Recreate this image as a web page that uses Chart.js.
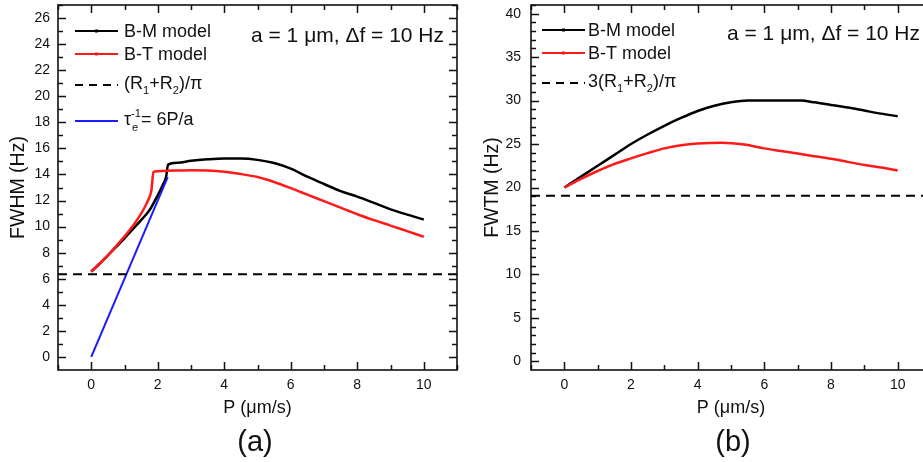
<!DOCTYPE html>
<html>
<head>
<meta charset="utf-8">
<script src="https://cdn.jsdelivr.net/npm/chart.js@4"></script>
<style>
  html, body { margin: 0; padding: 0; background: #fff; overflow: hidden; }
  #wrap { position: relative; width: 923px; height: 462px; overflow: hidden; background: #fff; }
  #fwhm-chart { position: absolute; left: 0; top: 0; }
  #fwtm-chart { position: absolute; left: 460px; top: 0; }
</style>
</head>
<body>
<div id="wrap">
  <canvas id="fwhm-chart" width="460" height="462"></canvas>
  <canvas id="fwtm-chart" width="474" height="462"></canvas>
</div>
<script>
const FONT = '"Liberation Sans", Arial, sans-serif';

// tick labels
const xTicks = [0, 2, 4, 6, 8, 10];
const fwhmTicks = [0, 2, 4, 6, 8, 10, 12, 14, 16, 18, 20, 22, 24, 26];
const fwtmTicks = [0, 5, 10, 15, 20, 25, 30, 35, 40];

// (a) FWHM, B-M model
const bmP = [0, 0.25, 0.5, 0.75, 1.0, 1.25, 1.5, 1.75, 2.0, 2.15, 2.25, 2.31, 2.6, 3.0, 3.5, 4.0, 4.5, 5.0, 5.5, 6.0, 6.5, 7.0, 7.5, 8.0, 8.5, 9.0, 9.5, 10];
const bmFwhm = [6.55, 7.15, 7.8, 8.45, 9.1, 9.8, 10.5, 11.25, 12.4, 13.2, 13.8, 14.75, 14.9, 15.05, 15.16, 15.22, 15.22, 15.12, 14.88, 14.45, 13.83, 13.27, 12.72, 12.3, 11.82, 11.32, 10.92, 10.55];

// (a) FWHM, B-T model
const btP = [0, 0.25, 0.5, 0.75, 1.0, 1.25, 1.5, 1.65, 1.75, 1.81, 1.87, 2.0, 2.5, 3.0, 3.5, 4.0, 4.5, 5.0, 5.5, 6.0, 6.5, 7.0, 7.5, 8.0, 8.5, 9.0, 9.5, 10];
const btFwhm = [6.55, 7.15, 7.8, 8.5, 9.25, 10.05, 11.0, 11.7, 12.25, 12.8, 14.2, 14.25, 14.3, 14.33, 14.3, 14.2, 14.03, 13.8, 13.42, 12.95, 12.45, 11.95, 11.45, 10.95, 10.5, 10.08, 9.65, 9.22];

// (a) 1/tau_e = 6P/a and (R1+R2)/pi
const tauP = [0, 2.3];
const tauFwhm = [0, 13.8];
const edgeP = [-1, 11];
const lossFwhm = [6.35, 6.35];

// (b) FWTM
const bmP2 = [0, 0.5, 1, 1.5, 2, 2.5, 3, 3.5, 4, 4.5, 5, 5.5, 6, 6.5, 7.1, 7.5, 8, 8.5, 9, 9.5, 10];
const bmFwtm = [20, 21.25, 22.5, 23.75, 25.0, 26.1, 27.1, 28.0, 28.8, 29.4, 29.8, 30.0, 30.0, 30.0, 30.0, 29.8, 29.5, 29.2, 28.85, 28.5, 28.2];
const btP2 = [0, 0.5, 1, 1.5, 2, 2.5, 3, 3.5, 4, 4.7, 5.4, 6, 6.5, 7, 7.5, 8, 8.5, 9, 9.5, 10];
const btFwtm = [20, 21.0, 21.9, 22.7, 23.35, 23.95, 24.5, 24.85, 25.05, 25.15, 24.95, 24.5, 24.2, 23.9, 23.6, 23.3, 22.95, 22.6, 22.3, 21.95];
const lossFwtm = [19.05, 19.05];

const pts = (xs, ys) => xs.map((x, i) => ({ x: x, y: ys[i] }));

// text with sub/superscripts, parts = [[text], [text, 'sub'], [sub, 'subsup', sup]]
function drawParts(ctx, parts, x, y, size) {
  const small = size * 0.62;
  ctx.textBaseline = 'middle';
  ctx.textAlign = 'left';
  for (const p of parts) {
    if (!p[1]) {
      ctx.font = `${size}px ${FONT}`;
      ctx.fillText(p[0], x, y);
      x += ctx.measureText(p[0]).width;
    } else if (p[1] === 'sub') {
      ctx.font = `${small}px ${FONT}`;
      ctx.fillText(p[0], x, y + size * 0.38);
      x += ctx.measureText(p[0]).width;
    } else {
      ctx.font = `${small}px ${FONT}`;
      ctx.fillText(p[0], x + 1, y + size * 0.42);
      ctx.fillText(p[2], x, y - size * 0.35);
      x += Math.max(ctx.measureText(p[0]).width, ctx.measureText(p[2]).width);
    }
  }
}

// frame with inward ticks, legend and labels
function decoPlugin(cfg) {
  return {
    id: 'deco',
    beforeDatasetsDraw(chart) {
      const { ctx, chartArea: a, scales: { x, y } } = chart;
      ctx.save();
      ctx.strokeStyle = '#111';
      ctx.lineWidth = 1.6;
      ctx.strokeRect(a.left, a.top, a.right - a.left, a.bottom - a.top);
      ctx.lineWidth = 1.5;
      ctx.beginPath();
      const tickX = (v, len) => {
        const px = Math.round(x.getPixelForValue(v)) + 0.5;
        ctx.moveTo(px, a.bottom); ctx.lineTo(px, a.bottom - len);
        ctx.moveTo(px, a.top); ctx.lineTo(px, a.top + len);
      };
      const tickY = (v, len) => {
        const py = Math.round(y.getPixelForValue(v)) + 0.5;
        ctx.moveTo(a.left, py); ctx.lineTo(a.left + len, py);
        ctx.moveTo(a.right, py); ctx.lineTo(a.right - len, py);
      };
      for (let v = -1; v <= 11; v++) tickX(v, xTicks.includes(v) ? 8 : 5);
      for (let v = 0; v <= cfg.yTop; v += cfg.yMinor) {
        tickY(v, cfg.yTicks.includes(v) ? 8 : 5);
      }
      ctx.stroke();
      ctx.restore();
    },
    afterDraw(chart) {
      const ctx = chart.ctx;
      ctx.save();
      cfg.legend.forEach(item => {
        ctx.strokeStyle = item.color;
        ctx.lineWidth = item.width;
        ctx.setLineDash(item.dash || []);
        ctx.beginPath();
        ctx.moveTo(cfg.lx0, item.ly);
        ctx.lineTo(cfg.lx1, item.ly);
        ctx.stroke();
        ctx.setLineDash([]);
        if (item.marker) {
          ctx.fillStyle = item.color;
          ctx.fillRect((cfg.lx0 + cfg.lx1) / 2 - 1.5, item.ly - 1.5, 3, 3);
        }
        ctx.fillStyle = '#111';
        drawParts(ctx, item.parts, cfg.tx, item.ty, 18);
      });
      ctx.fillStyle = '#111';
      drawParts(ctx, [['a = 1 μm, Δf = 10 Hz']], cfg.note[0], cfg.note[1], 21);
      ctx.font = `29px ${FONT}`;
      ctx.textAlign = 'center';
      ctx.textBaseline = 'middle';
      ctx.fillText(cfg.panel[0], cfg.panel[1], 443);
      ctx.restore();
    }
  };
}

function makePanel(canvasId, datasets, ys, cfg) {
  return new Chart(document.getElementById(canvasId), {
    type: 'line',
    data: { datasets: datasets },
    options: {
      responsive: false,
      animation: false,
      layout: { padding: { top: 5, right: 3, bottom: 0, left: 0 } },
      plugins: { legend: { display: false }, tooltip: { enabled: false } },
      elements: { point: { radius: 0 }, line: { cubicInterpolationMode: 'monotone' } },
      scales: {
        x: {
          type: 'linear', min: -1, max: 11,
          grid: { display: false, drawTicks: false },
          border: { display: false },
          afterBuildTicks: s => { s.ticks = xTicks.map(v => ({ value: v })); },
          afterFit: s => { s.height = 92; s.paddingLeft = 0; s.paddingRight = 0; },
          ticks: { autoSkip: false, maxRotation: 0, padding: 7, color: '#111', font: { size: 14, family: FONT } },
          title: { display: true, text: 'P (μm/s)', color: '#111', font: { size: 18, family: FONT }, padding: { top: 0, bottom: 43 } }
        },
        y: {
          type: 'linear', min: ys.min, max: ys.max,
          grid: { display: false, drawTicks: false },
          border: { display: false },
          afterBuildTicks: s => { s.ticks = ys.ticks.map(v => ({ value: v })); },
          afterFit: s => { s.width = ys.width; s.paddingTop = 0; s.paddingBottom = 0; },
          ticks: { autoSkip: false, padding: ys.pad, color: '#111', font: { size: 14, family: FONT } },
          title: { display: true, text: ys.title, color: '#111', font: { size: 19.5, family: FONT }, padding: { top: ys.titlePad, bottom: 0 } }
        }
      }
    },
    plugins: [decoPlugin(cfg)]
  });
}

makePanel('fwhm-chart', [
  { data: pts(edgeP, lossFwhm), borderColor: '#000', borderWidth: 2, borderDash: [9, 6], cubicInterpolationMode: 'default' },
  { data: pts(tauP, tauFwhm), borderColor: '#1a1aff', borderWidth: 2, cubicInterpolationMode: 'default' },
  { data: pts(btP, btFwhm), borderColor: '#ff1a1a', borderWidth: 2.5 },
  { data: pts(bmP, bmFwhm), borderColor: '#000', borderWidth: 2.5 }
], { min: -1, max: 27, ticks: fwhmTicks, width: 58, pad: 8, title: 'FWHM (Hz)', titlePad: 6.5 }, {
  yTicks: fwhmTicks, yTop: 27, yMinor: 1,
  lx0: 75, lx1: 118, tx: 124,
  legend: [
    { color: '#000', width: 2, marker: true, ly: 31, ty: 32, parts: [['B-M model']] },
    { color: '#ff1a1a', width: 2, marker: true, ly: 54, ty: 55, parts: [['B-T model']] },
    { color: '#000', width: 2, dash: [8, 6], ly: 85, ty: 84, parts: [['(R'], ['1', 'sub'], ['+R'], ['2', 'sub'], [')/π']] },
    { color: '#1a1aff', width: 2, ly: 121, ty: 120, parts: [['τ'], ['e', 'subsup', '-1'], ['= 6P/a']] }
  ],
  note: [251, 36],
  panel: ['(a)', 255]
});

makePanel('fwtm-chart', [
  { data: pts(edgeP, lossFwtm), borderColor: '#000', borderWidth: 2, borderDash: [9, 6], cubicInterpolationMode: 'default' },
  { data: pts(btP2, btFwtm), borderColor: '#ff1a1a', borderWidth: 2.5 },
  { data: pts(bmP2, bmFwtm), borderColor: '#000', borderWidth: 2.5 }
], { min: -1, max: 41, ticks: fwtmTicks, width: 71, pad: 10, title: 'FWTM (Hz)', titlePad: 20.5 }, {
  yTicks: fwtmTicks, yTop: 41, yMinor: 1,
  lx0: 82, lx1: 125, tx: 128,
  legend: [
    { color: '#000', width: 2, marker: true, ly: 30, ty: 31, parts: [['B-M model']] },
    { color: '#ff1a1a', width: 2, marker: true, ly: 53, ty: 54, parts: [['B-T model']] },
    { color: '#000', width: 2, dash: [8, 6], ly: 83, ty: 82, parts: [['3(R'], ['1', 'sub'], ['+R'], ['2', 'sub'], [')/π']] }
  ],
  note: [267, 34],
  panel: ['(b)', 273]
});
</script>
</body>
</html>
